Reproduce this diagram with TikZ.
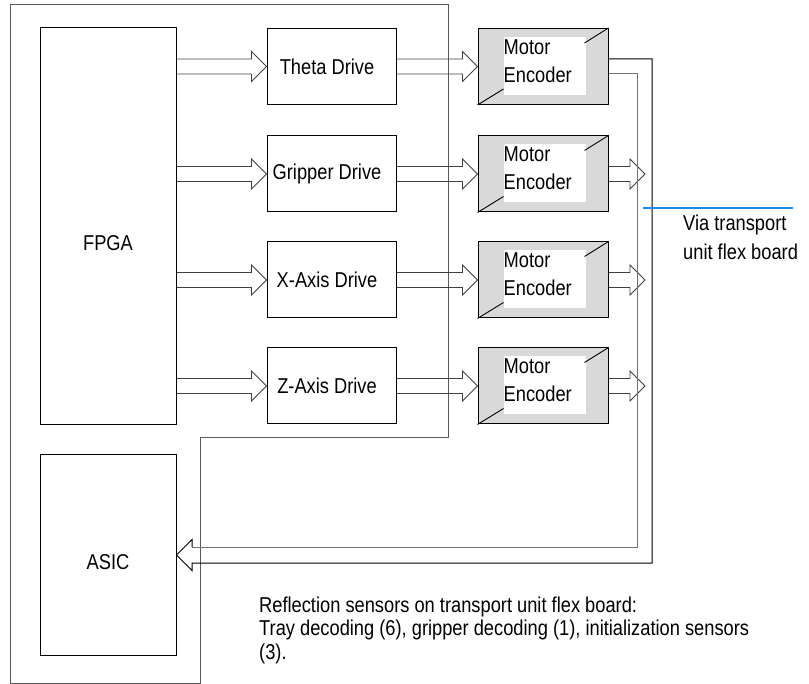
\documentclass[tikz,border=0pt]{standalone}
\usepackage{fontspec}
\setmainfont{Liberation Sans}[FakeStretch=0.85]
\usetikzlibrary{calc}

\definecolor{viablue}{RGB}{20,140,240}

\tikzset{
  board/.style={draw=black!65, line width=1pt},
  chipbox/.style={draw, line width=1pt, minimum width=136pt, inner sep=0pt},
  drivebox/.style={draw, line width=1pt, minimum width=129pt, minimum height=76pt},
  motorbox/.style={draw, line width=1pt, fill=black!15, minimum width=130pt, minimum height=76pt},
  fatline/.style={draw=black!75, line width=0.9pt},
  busline/.style={line width=1pt},
  viamark/.style={draw=viablue, line width=2.6pt},
  lbl/.style={font=\fontsize{21.5}{24}\selectfont, inner sep=0pt},
}

% hollow block arrow, pointing right, from #1 to the tip #2
\newcommand{\fatarrow}[2]{%
  \draw[fatline] let \p1=(#1), \p2=(#2) in
    (\x1,\y1+7.5pt) -- (\x2-15pt,\y1+7.5pt) -- (\x2-15pt,\y1+15pt) -- (\x2,\y1)
    -- (\x2-15pt,\y1-15pt) -- (\x2-15pt,\y1-7.5pt) -- (\x1,\y1-7.5pt);}

\begin{document}
\begin{tikzpicture}[x=1pt, y=-1pt]
\useasboundingbox (0,0) rectangle (809,684);

% main board outline
\draw[board] (10,5) -- (448,5) -- (448,438) -- (200,438) -- (200,683) -- (10,683) -- cycle;

% chips
\node[chipbox, minimum height=397pt] (fpga) at (108,226.5) {};
\node[lbl] (fpgatext) at (108,243) {FPGA};
\node[chipbox, minimum height=200pt] (asic) at (108,555) {};
\node[lbl] (asictext) at (108,562) {ASIC};

% drives and motors
\foreach \row/\yc/\name in {1/66.5/Theta Drive, 2/174/Gripper Drive, 3/280/X-Axis Drive, 4/386/Z-Axis Drive}{
  \node[drivebox] (drive\row) at (331.5,\yc) {};
  \node[lbl] (dlabel\row) at (327,\yc) {\name};
  \node[motorbox] (motor\row) at (543,\yc) {};
  \fill[white] ($(motor\row.north west)+(26,9)$) rectangle ($(motor\row.south east)+(-23,-10)$);
  \draw[line width=0.9pt] (motor\row.north east) -- ++(-24,15);
  \draw[line width=0.9pt] (motor\row.south west) -- ++(26,-16);
  \node[lbl, font=\fontsize{21.5}{28}\selectfont, align=left, anchor=north west]
    (mlabel\row) at ($(motor\row.west)+(26,-27)$) {Motor\\Encoder};
  \fatarrow{fpga.east |- drive\row.center}{drive\row.west}
  \fatarrow{drive\row.east}{motor\row.west}
}

% motor outputs onto the flex board bus
\foreach \row/\yc in {2/174, 3/280, 4/386}{
  \coordinate (tap\row) at (645,\yc);
  \fatarrow{motor\row.east}{tap\row}
}

% bus back to the ASIC
\coordinate (outerbus) at (652,563);
\coordinate (innerbus) at (637,547);
\draw[busline] ($(motor1.east)+(0,-7.5)$) -| (outerbus) -- (192,563) -- (192,570.5)
  -- (asic.east) -- (192,539.5) -- (192,547);
\draw[busline, draw=black!55] (192,547) -- (innerbus) |- ($(motor1.east)+(0,7.5)$);

% flex board marker
\coordinate (viaL) at (643,208);
\coordinate (viaR) at (793,208);
\draw[viamark] (viaL) -- (viaR);
\node[lbl, font=\fontsize{21.5}{29}\selectfont, align=left, anchor=north west]
  (viatext) at (683,214.5) {Via transport\\unit flex board};

\node[lbl, font=\fontsize{21.5}{23.5}\selectfont, align=left, anchor=north west]
  (sensortext) at (259,596.5) {Reflection sensors on transport unit flex board:\\Tray decoding (6), gripper decoding (1), initialization sensors\\(3).};
\end{tikzpicture}
\end{document}
